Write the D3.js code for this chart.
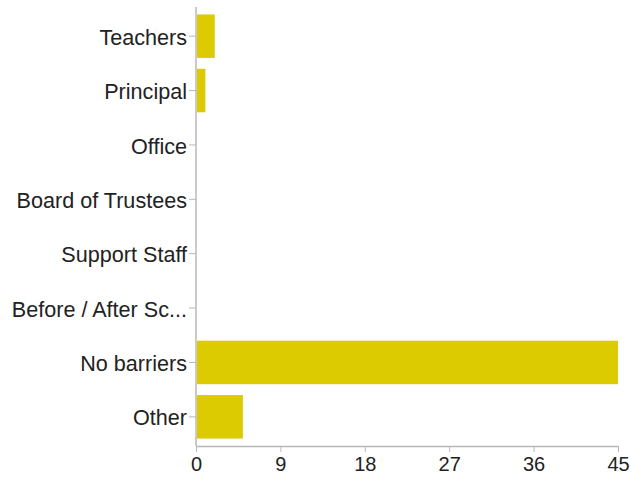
<!DOCTYPE html>
<html>
<head>
<meta charset="utf-8">
<script src="https://cdn.jsdelivr.net/npm/d3@7"></script>
<style>
body { margin:0; background:#fff; }
text { font-family: 'Liberation Sans', Arial, Helvetica, sans-serif; }
</style>
</head>
<body>
<div id="chart"></div>
<script>
// chart data
var categories = ['Teachers', 'Principal', 'Office', 'Board of Trustees', 'Support Staff', 'Before / After Sc...', 'No barriers', 'Other'];
var counts = [2, 1, 0, 0, 0, 0, 45, 5];
var xTicks = [0, 9, 18, 27, 36, 45];

var data = categories.map(function (c, i) { return {cat: c, val: counts[i]}; });

// chart parameters
var svpWidth = 631;
var svpHeight = 477;
var plot = {left:196, right:618, top:9, bottom:446};

var svg = d3.select('#chart')
	.append('svg')
	.attr('width', svpWidth)
	.attr('height', svpHeight);

var x = d3.scaleLinear()
	.domain([0, 45])
	.range([plot.left, plot.right]);

var y = d3.scaleBand()
	.domain(categories)
	.range([plot.top, plot.bottom - 2])
	.paddingInner(0.2)
	.paddingOuter(0.1);

// bars
svg.append('g')
	.selectAll('rect')
	.data(data)
	.enter()
	.append('rect')
	.attr('x', x(0) + 1)
	.attr('y', d => y(d.cat))
	.attr('width', d => Math.max(0, x(d.val) - x(0) - 1))
	.attr('height', y.bandwidth())
	.style('fill', '#dccb00');

// y-axis
var yAxis = svg.append('g')
	.attr('transform', 'translate(' + plot.left + ',0)')
	.call(d3.axisLeft(y).tickSize(7).tickPadding(2).tickSizeOuter(0));
yAxis.select('.domain').remove();
yAxis.selectAll('line').style('stroke', '#b8b8b8');
yAxis.selectAll('text')
	.attr('font-size', '21.6px')
	.attr('dy', '0.4em')
	.style('fill', '#222');
svg.append('line')
	.attr('x1', plot.left).attr('x2', plot.left)
	.attr('y1', plot.top - 2).attr('y2', plot.bottom)
	.style('stroke', '#b8b8b8')
	.style('stroke-width', 1.5);

// x-axis
var xAxis = svg.append('g')
	.attr('transform', 'translate(0,' + plot.bottom + ')')
	.call(d3.axisBottom(x).tickValues(xTicks).tickSize(6).tickPadding(5).tickSizeOuter(0));
xAxis.select('.domain').style('stroke', '#b8b8b8').style('stroke-width', 1.5);
xAxis.selectAll('line').style('stroke', '#b8b8b8');
xAxis.selectAll('text')
	.attr('font-size', '20px')
	.style('fill', '#222');
</script>
</body>
</html>
